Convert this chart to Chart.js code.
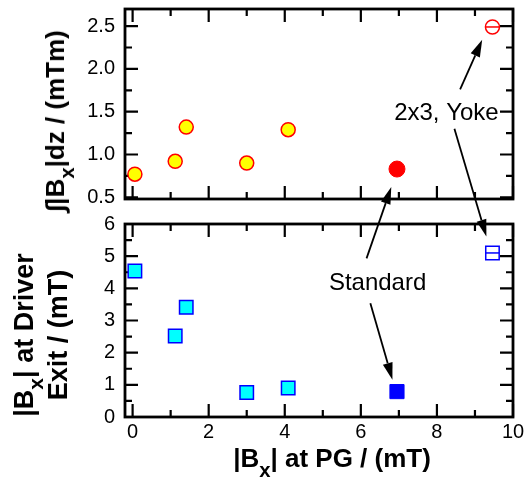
<!DOCTYPE html>
<html>
<head>
<meta charset="utf-8">
<script src="https://cdn.jsdelivr.net/npm/chart.js@4.4.1/dist/chart.umd.min.js"></script>
<style>
  html, body { margin: 0; padding: 0; background: #fff; }
  #page { position: relative; width: 525px; height: 488px; overflow: hidden; font-family: "Liberation Sans", Arial, sans-serif; }
  canvas { position: absolute; left: 0; }
  #topChart { top: 0; }
  #bottomChart { top: 212px; }
  #overlay { top: 0; pointer-events: none; }
  .title { position: absolute; font-weight: bold; font-size: 26px; line-height: 1; white-space: nowrap; color: #000; transform: translate(-50%, -50%); }
  .title.vertical { transform: translate(-50%, -50%) rotate(-90deg); }
  .title sub { font-size: 0.78em; vertical-align: -0.5em; line-height: 0; }
</style>
</head>
<body>
<div id="page">
  <canvas id="topChart" width="525" height="212"></canvas>
  <canvas id="bottomChart" width="525" height="276"></canvas>
  <canvas id="overlay" width="525" height="488"></canvas>
  <div class="title vertical" style="left:55px; top:121px;">∫|B<sub>x</sub>|dz / (mTm)</div>
  <div class="title vertical" style="left:24px; top:335px; font-size:27px;">|B<sub>x</sub>| at Driver</div>
  <div class="title vertical" style="left:58px; top:335px; font-size:27px;">Exit / (mT)</div>
  <div class="title" style="left:332px; top:458px;">|B<sub>x</sub>| at PG / (mT)</div>
</div>
<script>
// axis ticks
const X_TICKS = [0, 2, 4, 6, 8, 10];
const X_MINOR = [1, 3, 5, 7, 9];
const INT_TICKS = [0.5, 1.0, 1.5, 2.0, 2.5];
const INT_MINOR = [0.75, 1.25, 1.75, 2.25];
const EXIT_TICKS = [0, 1, 2, 3, 4, 5, 6];
const EXIT_MINOR = [0.5, 1.5, 2.5, 3.5, 4.5, 5.5];

// other configurations (yellow circles / cyan squares)
const otherPG = [0.06, 1.12, 1.41, 3.0, 4.09];
const otherIntegral = [0.77, 0.92, 1.32, 0.9, 1.29];
const otherExit = [4.54, 2.52, 3.41, 0.76, 0.9];
// Standard
const standardPG = [6.95];
const standardIntegral = [0.83];
const standardExit = [0.79];
// 2x3, Yoke
const yokePG = [9.46];
const yokeIntegral = [2.49];
const yokeExit = [5.1];

// annotation anchors, in data units of the chart they sit in
const labels = [
  { text: "2x3, Yoke", chart: "top", x: 8.25, y: 1.48 },
  { text: "Standard", chart: "bottom", x: 6.44, y: 4.16 },
];
const arrows = [
  { from: ["top", 8.61, 1.76], to: ["top", 9.19, 2.34] },
  { from: ["top", 8.46, 1.30], to: ["bottom", 9.3, 5.61] },
  { from: ["bottom", 6.15, 4.93], to: ["top", 6.8, 0.62] },
  { from: ["bottom", 6.25, 3.54], to: ["bottom", 6.83, 1.16] },
];

const FONT = "'Liberation Sans', Arial, sans-serif";
const pts = (xs, ys) => xs.map((x, i) => ({ x, y: ys[i] }));

const frameTicks = {
  id: "frameTicks",
  beforeDatasetsDraw(chart, args, opts) {
    const { ctx, chartArea: a, scales: { x, y } } = chart;
    ctx.save();
    ctx.strokeStyle = "#000";
    ctx.lineWidth = 2.2;
    ctx.beginPath();
    const xMarks = (values, len) => values.forEach((v) => {
      const p = x.getPixelForValue(v);
      ctx.moveTo(p, a.bottom); ctx.lineTo(p, a.bottom - len);
      ctx.moveTo(p, a.top); ctx.lineTo(p, a.top + len);
    });
    const yMarks = (values, len) => values.forEach((v) => {
      const p = y.getPixelForValue(v);
      ctx.moveTo(a.left, p); ctx.lineTo(a.left + len, p);
      ctx.moveTo(a.right, p); ctx.lineTo(a.right - len, p);
    });
    xMarks(X_TICKS, 13);
    xMarks(X_MINOR, 7);
    yMarks(opts.yMajor, 13);
    yMarks(opts.yMinor, 7);
    ctx.stroke();
    ctx.lineWidth = 2.8;
    ctx.strokeRect(a.left, a.top, a.right - a.left, a.bottom - a.top);
    ctx.restore();
  },
};

function makeOptions({ yMin, yMax, yTicks, yMinor, yFormat, xHeight, showX, top }) {
  const tickFont = { family: FONT, size: 20 };
  return {
    responsive: false,
    animation: false,
    events: [],
    layout: { padding: { top, right: 12, left: 0, bottom: 0 } },
    plugins: {
      legend: { display: false },
      tooltip: { enabled: false },
      frameTicks: { yMajor: yTicks, yMinor },
    },
    scales: {
      x: {
        type: "linear", min: -0.2, max: 10,
        afterBuildTicks: (s) => { s.ticks = X_TICKS.map((value) => ({ value })); },
        afterFit: (s) => { s.height = xHeight; s.paddingLeft = 0; s.paddingRight = 0; },
        grid: { display: false, drawTicks: false },
        border: { display: false },
        ticks: { display: showX, padding: 3, color: "#000", font: tickFont, maxRotation: 0, callback: (v) => String(v) },
      },
      y: {
        type: "linear", min: yMin, max: yMax,
        afterBuildTicks: (s) => { s.ticks = yTicks.map((value) => ({ value })); },
        afterFit: (s) => { s.width = 125; s.paddingTop = 0; s.paddingBottom = 0; },
        grid: { display: false, drawTicks: false },
        border: { display: false },
        ticks: { padding: 10, color: "#000", font: tickFont, callback: yFormat },
      },
    },
  };
}

const topChart = new Chart(document.getElementById("topChart"), {
  type: "scatter",
  data: {
    datasets: [
      { data: pts(otherPG, otherIntegral), pointStyle: "circle", pointRadius: 7, backgroundColor: "#ffff00", borderColor: "#ff0000", borderWidth: 1.5, clip: false },
      { data: pts(standardPG, standardIntegral), pointStyle: "circle", pointRadius: 8, backgroundColor: "#ff0000", borderColor: "#ff0000", borderWidth: 1, clip: false },
      { data: pts(yokePG, yokeIntegral), pointStyle: "circle", pointRadius: 7, backgroundColor: "rgba(0,0,0,0)", borderColor: "#ff0000", borderWidth: 1.5, clip: false },
      { data: pts(yokePG, yokeIntegral), pointStyle: "line", pointRadius: 7, borderColor: "#ff0000", borderWidth: 1.5, clip: false },
    ],
  },
  options: makeOptions({ yMin: 0.48, yMax: 2.7, yTicks: INT_TICKS, yMinor: INT_MINOR, yFormat: (v) => v.toFixed(1), xHeight: 13, showX: false, top: 6 }),
  plugins: [frameTicks],
});

const bottomChart = new Chart(document.getElementById("bottomChart"), {
  type: "scatter",
  data: {
    datasets: [
      { data: pts(otherPG, otherExit), pointStyle: "rect", pointRadius: 9.5, backgroundColor: "#00ffff", borderColor: "#0000ff", borderWidth: 1.5, clip: false },
      { data: pts(standardPG, standardExit), pointStyle: "rect", pointRadius: 10, backgroundColor: "#0000ff", borderColor: "#0000ff", borderWidth: 1, clip: false },
      { data: pts(yokePG, yokeExit), pointStyle: "rect", pointRadius: 9.5, backgroundColor: "rgba(0,0,0,0)", borderColor: "#0000ff", borderWidth: 1.5, clip: false },
      { data: pts(yokePG, yokeExit), pointStyle: "line", pointRadius: 6.7, borderColor: "#0000ff", borderWidth: 1.5, clip: false },
    ],
  },
  options: makeOptions({ yMin: 0, yMax: 6, yTicks: EXIT_TICKS, yMinor: EXIT_MINOR, yFormat: (v) => String(v), xHeight: 71, showX: true, top: 12 }),
  plugins: [frameTicks],
});

const charts = { top: [topChart, 0], bottom: [bottomChart, 212] };
const toPage = (name, x, y) => {
  const [chart, offset] = charts[name];
  return { x: chart.scales.x.getPixelForValue(x), y: chart.scales.y.getPixelForValue(y) + offset };
};

function drawArrow(ctx, a, b) {
  const angle = Math.atan2(b.y - a.y, b.x - a.x);
  const headLen = 17, headHalf = 5;
  const baseX = b.x - headLen * Math.cos(angle);
  const baseY = b.y - headLen * Math.sin(angle);
  ctx.beginPath();
  ctx.moveTo(a.x, a.y);
  ctx.lineTo(baseX, baseY);
  ctx.stroke();
  ctx.beginPath();
  ctx.moveTo(b.x, b.y);
  ctx.lineTo(baseX + headHalf * Math.sin(angle), baseY - headHalf * Math.cos(angle));
  ctx.lineTo(baseX - headHalf * Math.sin(angle), baseY + headHalf * Math.cos(angle));
  ctx.closePath();
  ctx.fill();
}

function drawAnnotations() {
  const ctx = document.getElementById("overlay").getContext("2d");
  ctx.fillStyle = "#000";
  ctx.strokeStyle = "#000";
  ctx.lineWidth = 1.8;
  arrows.forEach((arrow) => drawArrow(ctx, toPage(...arrow.from), toPage(...arrow.to)));
  ctx.font = `24px ${FONT}`;
  ctx.textAlign = "center";
  ctx.textBaseline = "middle";
  labels.forEach((label) => {
    const p = toPage(label.chart, label.x, label.y);
    ctx.fillText(label.text, p.x, p.y);
  });
}

drawAnnotations();
</script>
</body>
</html>
